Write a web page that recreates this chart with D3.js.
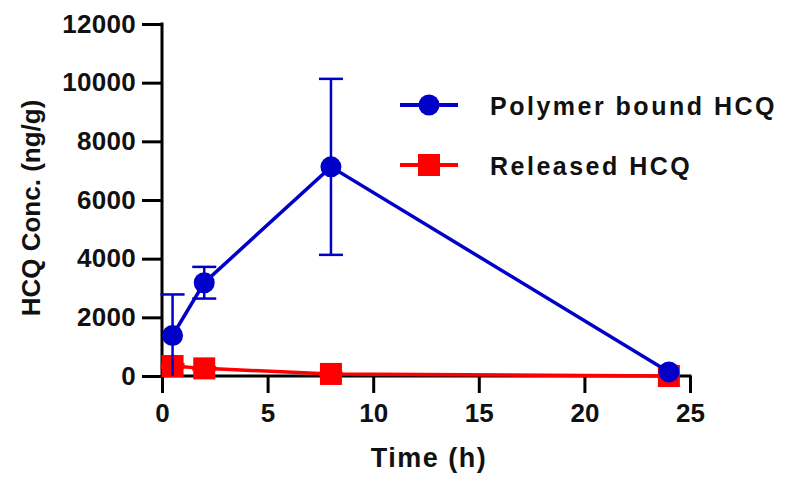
<!DOCTYPE html>
<html>
<head>
<meta charset="utf-8">
<script src="https://cdn.jsdelivr.net/npm/d3@7"></script>
<style>
  body { margin: 0; background: #fff; }
  text { font-family: "Liberation Sans", Arial, sans-serif; font-weight: bold; fill: #111; }
</style>
</head>
<body>
<div class="graph"></div>
<script>
// Data
var times = [0.5, 2, 8, 24];
var boundMean = [1380, 3180, 7130, 140];
var boundSd = [1400, 540, 3000, 0];
var releasedMean = [340, 260, 70, 0];
var releasedSd = [60, 40, 30, 0];
var seriesNames = ["Polymer bound HCQ", "Released HCQ"];
var xTicks = [0, 5, 10, 15, 20, 25];
var yTicks = [0, 2000, 4000, 6000, 8000, 10000, 12000];

// Configuration
var blue = "#0000c8";
var red = "#ff0000";
var width = 787, height = 483;

var x = d3.scaleLinear().domain([0, 25]).range([162, 690]);
var y = d3.scaleLinear().domain([0, 12000]).range([376, 24]);

var svg = d3.select(".graph").append("svg")
    .attr("width", width)
    .attr("height", height);

// axes
var xAxis = svg.append("g")
    .attr("transform", "translate(0," + y(0) + ")")
    .call(d3.axisBottom(x).tickValues(xTicks).tickFormat(d3.format("d")).tickSize(17).tickPadding(8));
var yAxis = svg.append("g")
    .attr("transform", "translate(" + x(0) + ",0)")
    .call(d3.axisLeft(y).tickValues(yTicks).tickFormat(d3.format("d")).tickSize(20).tickPadding(6));

[xAxis, yAxis].forEach(function(a) {
    a.select(".domain").attr("stroke", "#000").attr("stroke-width", 3);
    a.selectAll(".tick line").attr("stroke", "#000").attr("stroke-width", 3);
    a.selectAll(".tick text")
        .attr("fill", "#111")
        .style("font-size", "26px");
});
xAxis.select(".domain").attr("d", "M" + x(0) + ",0H" + (x(25) + 1.5));
yAxis.select(".domain").attr("d", "M0," + y(0) + "V" + (y(12000) - 1.5));
xAxis.selectAll(".tick text").attr("dy", "0.8em");
yAxis.selectAll(".tick text").style("letter-spacing", "0.3px");

// axis titles
svg.append("text")
    .attr("x", 429).attr("y", 467)
    .attr("text-anchor", "middle")
    .style("font-size", "27px")
    .style("letter-spacing", "1.5px")
    .text("Time (h)");
svg.append("text")
    .attr("transform", "translate(40,208) rotate(-90)")
    .attr("text-anchor", "middle")
    .style("font-size", "26px")
    .text("HCQ Conc. (ng/g)");

function pts(means, sds) {
    return times.map(function(t, i) { return {t: t, m: means[i], sd: sds[i]}; });
}

var line = d3.line()
    .x(function(d) { return x(d.t); })
    .y(function(d) { return y(d.m); });

function drawSeries(data, color, marker) {
    var g = svg.append("g");
    g.append("path")
        .datum(data)
        .attr("d", line)
        .attr("fill", "none")
        .attr("stroke", color)
        .attr("stroke-width", 3.5);
    var eb = g.selectAll(".eb").data(data.filter(function(d) { return d.sd > 0; }))
        .enter().append("g");
    eb.append("line")
        .attr("x1", function(d) { return x(d.t); })
        .attr("x2", function(d) { return x(d.t); })
        .attr("y1", function(d) { return y(d.m + d.sd); })
        .attr("y2", function(d) { return y(Math.max(0, d.m - d.sd)); })
        .attr("stroke", color).attr("stroke-width", 2.5);
    eb.append("line")
        .attr("x1", function(d) { return x(d.t) - 12; })
        .attr("x2", function(d) { return x(d.t) + 12; })
        .attr("y1", function(d) { return y(d.m + d.sd); })
        .attr("y2", function(d) { return y(d.m + d.sd); })
        .attr("stroke", color).attr("stroke-width", 2.5);
    eb.filter(function(d) { return d.m - d.sd > 0; }).append("line")
        .attr("x1", function(d) { return x(d.t) - 12; })
        .attr("x2", function(d) { return x(d.t) + 12; })
        .attr("y1", function(d) { return y(d.m - d.sd); })
        .attr("y2", function(d) { return y(d.m - d.sd); })
        .attr("stroke", color).attr("stroke-width", 2.5);
    if (marker === "circle") {
        g.selectAll(".pt").data(data).enter().append("circle")
            .attr("cx", function(d) { return x(d.t); })
            .attr("cy", function(d) { return y(d.m); })
            .attr("r", 10.5)
            .attr("fill", color);
    } else {
        g.selectAll(".pt").data(data).enter().append("rect")
            .attr("x", function(d) { return x(d.t) - 11; })
            .attr("y", function(d) { return y(d.m) - 11; })
            .attr("width", 22).attr("height", 22)
            .attr("fill", color);
    }
}

drawSeries(pts(releasedMean, releasedSd), red, "square");
drawSeries(pts(boundMean, boundSd), blue, "circle");

// legend
var legend = [
    {name: seriesNames[0], color: blue, marker: "circle", y: 105},
    {name: seriesNames[1], color: red, marker: "square", y: 165}
];
var lg = svg.selectAll(".lg").data(legend).enter().append("g");
lg.append("line")
    .attr("x1", 400).attr("x2", 458)
    .attr("y1", function(d) { return d.y; })
    .attr("y2", function(d) { return d.y; })
    .attr("stroke", function(d) { return d.color; })
    .attr("stroke-width", 4);
lg.filter(function(d) { return d.marker === "circle"; }).append("circle")
    .attr("cx", 429).attr("cy", function(d) { return d.y; })
    .attr("r", 10.5).attr("fill", function(d) { return d.color; });
lg.filter(function(d) { return d.marker === "square"; }).append("rect")
    .attr("x", 418).attr("y", function(d) { return d.y - 11; })
    .attr("width", 22).attr("height", 22)
    .attr("fill", function(d) { return d.color; });
lg.append("text")
    .attr("x", 490)
    .attr("y", function(d) { return d.y + 10; })
    .style("font-size", "25px")
    .style("letter-spacing", "2.5px")
    .text(function(d) { return d.name; });
</script>
</body>
</html>
